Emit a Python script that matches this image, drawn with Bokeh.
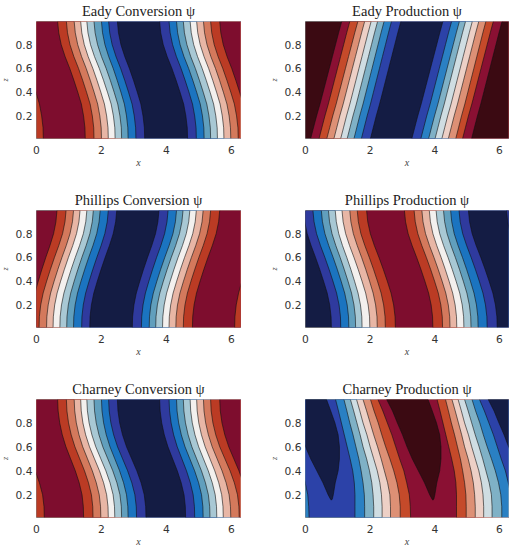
import numpy as np
from bokeh.plotting import figure
from bokeh.models import Range1d, FixedTicker
from bokeh.layouts import column, row
from bokeh.embed import file_html
from bokeh.resources import INLINE

# heights at which the contours were read
Z_LEVELS = [0.01, 0.1, 0.2, 0.3, 0.4, 0.5, 0.6, 0.7, 0.8, 0.9, 0.995]
X_TICKS = [0, 2, 4, 6]
Z_TICKS = [0.2, 0.4, 0.6, 0.8]

DR, RD, SA, PK, WH, LB, MB, BL, IN, NV = ("#7e0d2e", "#bb3b24", "#d4795c", "#e8b6a5", "#f3f0ee",
                                          "#a8c8d4", "#619fbd", "#1b74c0", "#2f3a9e", "#141c44")
MA, CR, R2, S2, P2, G2, M2, B2, I2 = ("#3b0a12", "#8a1033", "#c54a2a", "#dd9075", "#edd0c6",
                                      "#cfdde2", "#7fb1c6", "#2a80c3", "#2c42a8")

TITLES = ["Eady Conversion ψ", "Eady Production ψ", "Phillips Conversion ψ",
          "Phillips Production ψ", "Charney Conversion ψ", "Charney Production ψ"]

# contour x at the bottom and the top of each panel, and how far along it the contour is at each level
eady_conv_bottom = [.21, 1.50, 1.77, 2.00, 2.21, 2.42, 2.62, 2.82, 3.06, 3.33, 4.65, 4.92, 5.16, 5.36, 5.57, 5.77, 5.98, 6.21, 6.48]
eady_conv_top = [-.64, .65, .92, 1.16, 1.36, 1.55, 1.77, 2.00, 2.22, 2.49, 3.79, 4.08, 4.31, 4.52, 4.73, 4.93, 5.14, 5.36, 5.64]
eady_conv_along = [0, .01, .06, .14, .27, .41, .56, .73, .87, .96, 1]
eady_conv_colors = [RD, DR, RD, SA, PK, WH, LB, MB, BL, IN, NV, IN, BL, MB, LB, WH, PK, SA, RD, DR]

eady_prod_bottom = [.16, .42, .66, .88, 1.09, 1.29, 1.50, 1.73, 2.01, 3.29, 3.57, 3.81, 4.01, 4.22, 4.42, 4.65, 4.86, 5.14]
eady_prod_top = [1.12, 1.37, 1.62, 1.83, 2.03, 2.23, 2.43, 2.66, 2.95, 4.25, 4.52, 4.76, 4.95, 5.16, 5.36, 5.58, 5.81, 6.08]
eady_prod_along = [0, .09, .19, .30, .40, .50, .60, .70, .80, .90, 1]
eady_prod_colors = [MA, CR, R2, S2, P2, G2, M2, B2, I2, NV, I2, B2, M2, G2, P2, S2, R2, CR, MA]

phil_conv_bottom = [-.17, .08, .31, .51, .72, .93, 1.14, 1.39, 1.64, 2.95, 3.23, 3.47, 3.67, 3.88, 4.08, 4.29, 4.52, 4.80, 6.10]
phil_conv_top = [.63, .91, 1.14, 1.34, 1.55, 1.75, 1.96, 2.21, 2.47, 3.77, 4.05, 4.31, 4.51, 4.72, 4.92, 5.13, 5.36, 5.64, 6.90]
phil_conv_along = [0, .01, .06, .15, .28, .42, .57, .73, .87, .96, 1]
phil_conv_colors = [DR, RD, SA, PK, WH, LB, MB, BL, IN, NV, IN, BL, MB, LB, WH, PK, SA, RD, DR, RD]

phil_prod_bottom = [.80, 1.09, 1.34, 1.55, 1.75, 1.99, 2.22, 2.47, 2.78, 3.94, 4.24, 4.47, 4.68, 4.90, 5.12, 5.34, 5.62, 5.93, 7.08]
phil_prod_top = [-.06, .23, .49, .71, .92, 1.13, 1.37, 1.60, 1.89, 3.06, 3.36, 3.60, 3.83, 4.04, 4.27, 4.49, 4.75, 5.04, 6.22]
phil_prod_along = [0, .01, .06, .15, .28, .42, .57, .73, .87, .96, 1]
phil_prod_colors = [NV, IN, BL, MB, LB, WH, PK, SA, RD, DR, RD, SA, PK, WH, LB, MB, BL, IN, NV, IN]

char_conv_bottom = [.24, 1.45, 1.74, 1.98, 2.21, 2.41, 2.62, 2.82, 3.08, 3.37, 4.59, 4.87, 5.13, 5.34, 5.55, 5.75, 5.98, 6.24, 6.51]
char_conv_top = [-.64, .65, .92, 1.16, 1.36, 1.55, 1.77, 2.00, 2.22, 2.49, 3.79, 4.08, 4.31, 4.52, 4.73, 4.93, 5.14, 5.36, 5.64]
char_conv_along = [0, .01, .06, .17, .32, .50, .68, .82, .92, .98, 1]
char_conv_colors = eady_conv_colors

# Charney production: the contours are not parallel, so each one is read at every level
char_a = [.11, .10, .07, -.01, -.10, -.23, -.35, -.47, -.61, -.75, -.90]
char_b = [1.53, 1.53, 1.53, 1.51, 1.46, 1.38, 1.29, 1.20, 1.11, 1.02, .93]
char_c = [1.83, 1.83, 1.82, 1.78, 1.72, 1.65, 1.56, 1.47, 1.37, 1.28, 1.19]
char_d = [2.11, 2.11, 2.09, 2.05, 1.98, 1.89, 1.78, 1.69, 1.59, 1.49, 1.39]
char_e = [2.37, 2.37, 2.35, 2.30, 2.22, 2.11, 2.00, 1.90, 1.78, 1.68, 1.58]
char_f = [2.63, 2.63, 2.61, 2.54, 2.44, 2.34, 2.23, 2.11, 2.00, 1.89, 1.78]
char_g = [2.93, 2.93, 2.90, 2.83, 2.73, 2.61, 2.48, 2.36, 2.25, 2.12, 2.01]
char_prod_colors = [B2, I2, B2, M2, G2, P2, S2, R2, CR, R2, S2, P2, G2, M2, B2, I2]
char_blob_x = [.65, .78, .91, 1.01, 1.05, 1.05, 1.01, .92, .86, .83, .80, .77, .70, .54, .35, .16, 0, -.14, -.30, -.45, -.63]
char_blob_z = [.995, .9, .8, .7, .6, .5, .4, .3, .2, .165, .155, .165, .2, .3, .4, .5, .6, .7, .8, .9, .995]

FAR_L, FAR_R = -3.0, 11.0


def from_ends(bottom, top, along):
    b, t, a = np.array(bottom), np.array(top), np.array(along)
    return [bi + (ti - bi) * a for bi, ti in zip(b, t)]


def panel(title, contours, colors, left, frame_w, right, top, frame_h, bottom, blobs=()):
    p = figure(width=left + frame_w + right, height=top + frame_h + bottom,
               x_range=Range1d(0, 6.28), y_range=Range1d(0.01, 0.995),
               output_backend="svg", toolbar_location=None, tools="",
               min_border_left=left, min_border_right=right, min_border_top=top, min_border_bottom=bottom,
               x_axis_label="x", y_axis_label="z", title=title)
    z = np.array(Z_LEVELS)
    xs = [[FAR_L, FAR_R, FAR_R, FAR_L]]
    ys = [[z[0], z[0], z[-1], z[-1]]]
    for c in contours:
        xs.append(list(c) + [FAR_R, FAR_R])
        ys.append(list(z) + [z[-1], z[0]])
    p.patches(xs, ys, fill_color=list(colors), line_color=None)
    p.multi_line([list(c) for c in contours], [list(z)] * len(contours), line_color="#111111",
                 line_width=0.7, line_alpha=0.85)
    for bx, bz, col in blobs:
        p.patch(bx, bz, fill_color=col, line_color="#111111", line_width=0.7, line_alpha=0.85)

    p.title.text_font = "Liberation Serif"
    p.title.text_font_size = "14.5px"
    p.title.text_font_style = "normal"
    p.title.text_color = "#222222"
    p.title.align = "center"
    p.title.standoff = 5
    p.grid.visible = False
    p.outline_line_color = "#666666"
    p.outline_line_width = 0.8
    p.background_fill_color = None
    p.border_fill_color = "#ffffff"
    p.xaxis.ticker = FixedTicker(ticks=X_TICKS)
    p.yaxis.ticker = FixedTicker(ticks=Z_TICKS)
    for ax in (p.xaxis[0], p.yaxis[0]):
        ax.axis_line_color = None
        ax.major_tick_line_color = None
        ax.minor_tick_line_color = None
        ax.major_tick_out = 0
        ax.major_tick_in = 0
        ax.minor_tick_out = 0
        ax.minor_tick_in = 0
        ax.major_label_text_font = "DejaVu Sans"
        ax.major_label_text_font_size = "10.7px"
        ax.major_label_text_color = "#333333"
        ax.axis_label_text_font = "Liberation Serif"
        ax.axis_label_text_font_style = "italic"
        ax.axis_label_text_color = "#444444"
    p.xaxis.major_label_standoff = 7
    p.yaxis.major_label_standoff = 4
    p.xaxis.axis_label_text_font_size = "10px"
    p.yaxis.axis_label_text_font_size = "8px"
    p.xaxis.axis_label_standoff = 0
    p.yaxis.axis_label_standoff = 3
    return p


char_half = [np.array(c) for c in (char_a, char_b, char_c, char_d, char_e, char_f, char_g)]
char_contours = char_half + [c + np.pi for c in char_half] + [char_half[0] + 2 * np.pi]
blob_x = np.array(char_blob_x)
char_blobs = [(blob_x, char_blob_z, NV), (blob_x + np.pi, char_blob_z, MA), (blob_x + 2 * np.pi, char_blob_z, NV)]

L = dict(left=40, frame_w=204, right=25)
R = dict(left=40, frame_w=203, right=4)
H1 = dict(top=24, frame_h=117, bottom=48)
H2 = dict(top=24, frame_h=117, bottom=48)
H3 = dict(top=24, frame_h=118, bottom=32)

figs = [
    panel(TITLES[0], from_ends(eady_conv_bottom, eady_conv_top, eady_conv_along), eady_conv_colors, **L, **H1),
    panel(TITLES[1], from_ends(eady_prod_bottom, eady_prod_top, eady_prod_along), eady_prod_colors, **R, **H1),
    panel(TITLES[2], from_ends(phil_conv_bottom, phil_conv_top, phil_conv_along), phil_conv_colors, **L, **H2),
    panel(TITLES[3], from_ends(phil_prod_bottom, phil_prod_top, phil_prod_along), phil_prod_colors, **R, **H2),
    panel(TITLES[4], from_ends(char_conv_bottom, char_conv_top, char_conv_along), char_conv_colors, **L, **H3),
    panel(TITLES[5], char_contours, char_prod_colors, **R, **H3, blobs=char_blobs),
]

layout = column(row(figs[0], figs[1], spacing=0), row(figs[2], figs[3], spacing=0),
                row(figs[4], figs[5], spacing=0), spacing=0, margin=(-3, 0, 0, -4))

open("out.html", "w").write(file_html(layout, INLINE))
